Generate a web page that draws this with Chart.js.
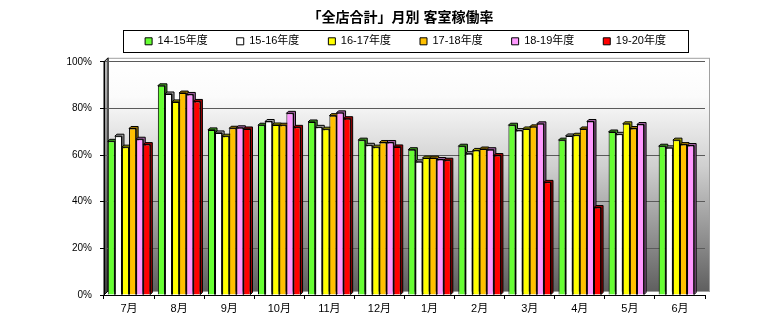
<!DOCTYPE html>
<html>
<head>
<meta charset="utf-8">
<script src="https://cdn.jsdelivr.net/npm/chart.js@4/dist/chart.umd.min.js"></script>
<style>
  body { margin: 0; background: #fff; }
  #wrap { width: 780px; height: 325px; }
</style>
</head>
<body>
<div id="wrap"><canvas id="c" width="780" height="325"></canvas></div>
<script>
const months = ["7月", "8月", "9月", "10月", "11月", "12月", "1月", "2月", "3月", "4月", "5月", "6月"];
const seriesNames = ["14-15年度", "15-16年度", "16-17年度", "17-18年度", "18-19年度", "19-20年度"];
const fy1415 = [65.9, 89.7, 70.8, 72.8, 74.2, 66.4, 62.3, 63.8, 72.8, 66.4, 69.9, 63.8];
const fy1516 = [68.1, 86.2, 69.5, 74.4, 71.9, 64.2, 57.1, 60.6, 70.5, 68.2, 68.9, 63.1];
const fy1617 = [63.4, 82.8, 68.1, 72.9, 71.1, 63.4, 58.7, 62.0, 71.2, 68.5, 73.4, 66.4];
const fy1718 = [71.4, 86.6, 71.5, 72.8, 76.9, 65.4, 58.7, 62.6, 72.1, 71.2, 71.4, 64.5];
const fy1819 = [66.8, 86.0, 71.7, 77.9, 78.1, 65.4, 58.1, 62.3, 73.4, 74.4, 73.1, 64.1];
const fy1920 = [64.5, 83.0, 71.2, 71.9, 75.6, 63.5, 57.8, 59.8, 48.3, 37.5, null, null];
const yTicks = [0, 20, 40, 60, 80, 100];

const colors = ["#66ff33", "#ffffff", "#ffff00", "#ffc000", "#ff99ff", "#ff0000"];
const sides = ["#3f9a20", "#a0a0a0", "#a8a800", "#a07800", "#a060a0", "#a00000"];
const allSeries = [fy1415, fy1516, fy1617, fy1718, fy1819, fy1920];

const jp = "'Liberation Sans', 'Noto Sans CJK JP', sans-serif";

// back wall, left wall, depth faces of the bars, legend frame
const wallPlugin = {
  id: "wall",
  afterInit(chart) {
    // make the legend a bit taller so the plot starts lower
    const lg = chart.legend;
    const fit = lg.fit.bind(lg);
    lg.fit = function () { fit(); this.height += 5; };
  },
  afterLayout(chart) {
    // title and legend sit right of the plot's centre in the original
    const t = chart.titleBlock, lg = chart.legend;
    t.left += 48; t.right += 48;
    lg.left += 53; lg.right += 53;
  },
  beforeDraw(chart) {
    const { ctx, chartArea: a } = chart;
    const d = 4;
    ctx.save();
    const g = ctx.createLinearGradient(0, a.top, 0, a.bottom);
    g.addColorStop(0, "#ffffff");
    g.addColorStop(0.15, "#fbfbfb");
    g.addColorStop(0.45, "#cfcfcf");
    g.addColorStop(1, "#5c5c5c");
    ctx.fillStyle = g;
    ctx.fillRect(a.left + d, a.top - d, a.right - a.left, a.bottom - a.top);
    ctx.strokeStyle = "#a0a0a0";
    ctx.lineWidth = 1;
    ctx.strokeRect(a.left + d + 0.5, a.top - d + 0.5, a.right - a.left, a.bottom - a.top);
    // left wall
    const g2 = ctx.createLinearGradient(0, a.top, 0, a.bottom);
    g2.addColorStop(0, "#b8b8b8");
    g2.addColorStop(1, "#404040");
    ctx.fillStyle = g2;
    ctx.beginPath();
    ctx.moveTo(a.left, a.top);
    ctx.lineTo(a.left + d, a.top - d);
    ctx.lineTo(a.left + d, a.bottom - d);
    ctx.lineTo(a.left, a.bottom);
    ctx.closePath();
    ctx.fill();
    ctx.strokeStyle = "#000";
    ctx.stroke();
    ctx.restore();
  },
  beforeDatasetsDraw(chart) {
    const ctx = chart.ctx;
    const d = 2;
    ctx.save();
    ctx.lineWidth = 1;
    ctx.strokeStyle = "#000";
    chart.data.datasets.forEach((ds, i) => {
      const meta = chart.getDatasetMeta(i);
      meta.data.forEach((bar, j) => {
        if (ds.data[j] == null) return;
        const { x, y, base, width } = bar.getProps(["x", "y", "base", "width"], true);
        const l = x - width / 2, r = x + width / 2;
        ctx.fillStyle = sides[i];
        ctx.beginPath();
        ctx.moveTo(l, y);
        ctx.lineTo(l + d, y - d);
        ctx.lineTo(r + d, y - d);
        ctx.lineTo(r + d, base - d);
        ctx.lineTo(r, base);
        ctx.lineTo(r, y);
        ctx.closePath();
        ctx.fill();
        ctx.stroke();
      });
    });
    ctx.restore();
  },
  afterDraw(chart) {
    const boxes = chart.legend.legendHitBoxes;
    if (!boxes || !boxes.length) return;
    const ctx = chart.ctx;
    let minX = Infinity, maxX = -Infinity, minY = Infinity, maxY = -Infinity;
    boxes.forEach((b) => {
      minX = Math.min(minX, b.left);
      maxX = Math.max(maxX, b.left + b.width);
      minY = Math.min(minY, b.top);
      maxY = Math.max(maxY, b.top + b.height);
    });
    const cy = (minY + maxY) / 2;
    ctx.save();
    ctx.strokeStyle = "#000";
    ctx.lineWidth = 1;
    ctx.strokeRect(Math.round(minX - 22) + 0.5, Math.round(cy - 11) + 0.5,
      Math.round(maxX - minX + 44), 22);
    ctx.restore();
  },
};

new Chart(document.getElementById("c"), {
  type: "bar",
  data: {
    labels: months,
    datasets: seriesNames.map((name, i) => ({
      label: name,
      data: allSeries[i],
      backgroundColor: colors[i],
      borderColor: "#000",
      borderWidth: 1,
      categoryPercentage: 0.85,
      barPercentage: 1.0,
    })),
  },
  options: {
    responsive: false,
    animation: false,
    layout: { padding: { left: 0, right: 75, top: 0, bottom: 0 } },
    plugins: {
      title: {
        display: true,
        text: "「全店合計」月別 客室稼働率",
        color: "#000",
        font: { family: jp, size: 14, weight: "bold" },
        padding: { top: 10, bottom: -20 },
      },
      legend: {
        display: true,
        labels: {
          color: "#000",
          font: { family: jp, size: 11 },
          boxWidth: 7,
          boxHeight: 7,
          padding: 29,
        },
      },
      tooltip: { enabled: false },
    },
    scales: {
      x: {
        grid: { display: true, drawOnChartArea: false, tickLength: 4, color: "#000" },
        border: { display: true, color: "#000" },
        ticks: { color: "#000", font: { family: jp, size: 11 }, padding: 3 },
        afterFit(scale) { scale.height = 30; },
      },
      y: {
        min: 0,
        max: 100,
        afterBuildTicks(scale) { scale.ticks = yTicks.map((v) => ({ value: v })); },
        grid: { color: "#5a5a5a", lineWidth: 1, tickLength: 4, tickColor: "#000" },
        border: { display: true, color: "#000" },
        ticks: {
          color: "#000",
          font: { family: "'Liberation Sans', sans-serif", size: 10 },
          padding: 8,
          callback: (v) => v + "%",
        },
        afterFit(scale) { scale.width = 104; },
      },
    },
  },
  plugins: [wallPlugin],
});
</script>
</body>
</html>
